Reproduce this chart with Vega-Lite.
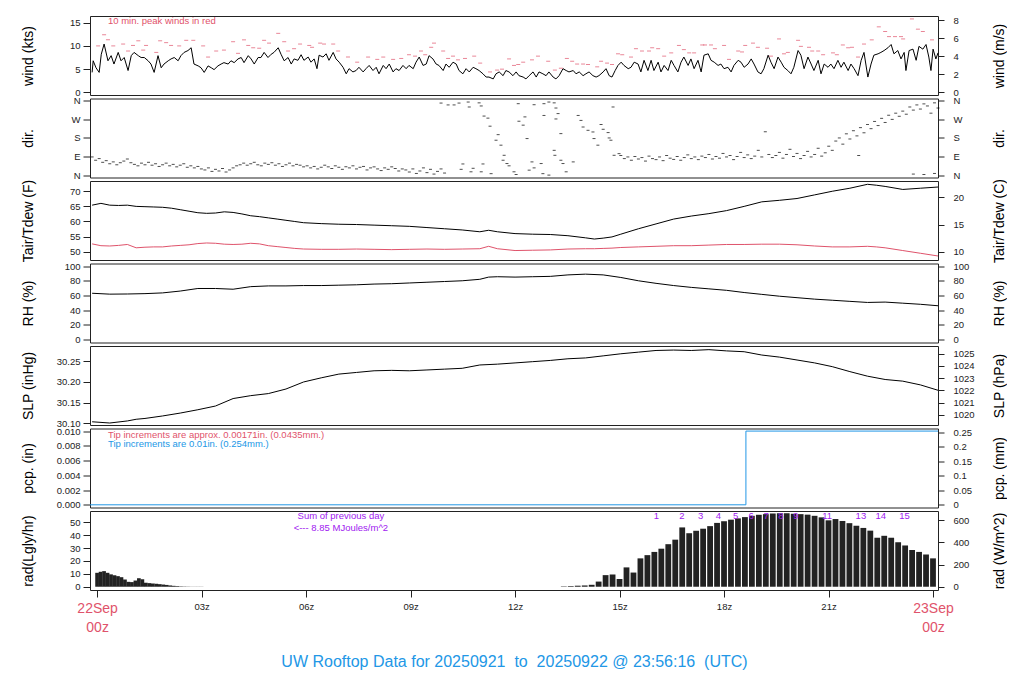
{
"$schema":"https://vega.github.io/schema/vega-lite/v6.json",
"padding":{"left":20,"top":14,"right":0,"bottom":0},
"background":"white",
"spacing":3.5,
"bounds":"flush",
"config":{
"font":"Liberation Sans",
"view":{"stroke":"#222","strokeWidth":1},
"axis":{"labelFont":"Liberation Sans","labelFontSize":9.5,"labelColor":"#222","tickColor":"#222","tickSize":7,"labelPadding":3,"domain":false,"grid":false,"titleFont":"Liberation Sans","titleFontSize":14,"titleFontWeight":"normal","titleColor":"#000","labelOverlap":false,"labelFlush":false},
"axisLeft":{"titleAngle":270,"titleX":-62,"titleY":39.5,"titleAlign":"center","titleBaseline":"middle"},
"axisRight":{"titleAngle":270,"titleX":61,"titleY":39.5,"titleAlign":"center","titleBaseline":"middle","tickSize":6,"labelPadding":9}
},
"datasets":{
"wind":[{"t":0,"w":4.3},{"t":0.03,"w":6.8},{"t":0.11,"w":5.3},{"t":0.2,"w":4.3},{"t":0.26,"w":8.2},{"t":0.34,"w":10.4},{"t":0.45,"w":6.8},{"t":0.54,"w":7.9},{"t":0.62,"w":6.1},{"t":0.74,"w":8.6},{"t":0.82,"w":6.8},{"t":0.91,"w":7.5},{"t":1.02,"w":4.7},{"t":1.11,"w":7.9},{"t":1.19,"w":8.6},{"t":1.31,"w":7.9},{"t":1.39,"w":7.5},{"t":1.48,"w":7.5},{"t":1.59,"w":6.8},{"t":1.67,"w":6.1},{"t":1.76,"w":4.3},{"t":1.87,"w":7.9},{"t":1.96,"w":5.3},{"t":2.04,"w":6.1},{"t":2.16,"w":6.8},{"t":2.24,"w":7.2},{"t":2.33,"w":7.5},{"t":2.44,"w":6.8},{"t":2.52,"w":7.9},{"t":2.61,"w":8.6},{"t":2.72,"w":9.0},{"t":2.81,"w":9.6},{"t":2.89,"w":6.1},{"t":3.01,"w":5.7},{"t":3.09,"w":5.3},{"t":3.18,"w":4.3},{"t":3.29,"w":5.7},{"t":3.38,"w":5.3},{"t":3.46,"w":4.9},{"t":3.57,"w":5.7},{"t":3.66,"w":6.1},{"t":3.74,"w":6.4},{"t":3.86,"w":6.1},{"t":3.94,"w":6.8},{"t":4.03,"w":6.4},{"t":4.14,"w":7.2},{"t":4.23,"w":7.5},{"t":4.31,"w":6.4},{"t":4.43,"w":7.9},{"t":4.51,"w":7.2},{"t":4.6,"w":6.1},{"t":4.71,"w":7.5},{"t":4.79,"w":7.5},{"t":4.88,"w":8.6},{"t":4.99,"w":7.5},{"t":5.08,"w":8.2},{"t":5.16,"w":8.6},{"t":5.28,"w":9.6},{"t":5.36,"w":8.2},{"t":5.45,"w":6.8},{"t":5.56,"w":7.5},{"t":5.65,"w":6.1},{"t":5.73,"w":7.2},{"t":5.84,"w":6.9},{"t":5.93,"w":8.1},{"t":6.01,"w":6.9},{"t":6.13,"w":7.6},{"t":6.21,"w":6.5},{"t":6.3,"w":7.2},{"t":6.38,"w":5.1},{"t":6.44,"w":8.0},{"t":6.55,"w":7.6},{"t":6.64,"w":8.3},{"t":6.72,"w":6.9},{"t":6.84,"w":8.6},{"t":6.92,"w":7.2},{"t":7.01,"w":6.5},{"t":7.12,"w":5.4},{"t":7.21,"w":4.0},{"t":7.29,"w":5.1},{"t":7.4,"w":4.4},{"t":7.49,"w":4.7},{"t":7.57,"w":5.4},{"t":7.69,"w":4.4},{"t":7.77,"w":5.1},{"t":7.86,"w":5.8},{"t":7.97,"w":4.7},{"t":8.06,"w":5.4},{"t":8.14,"w":4.0},{"t":8.26,"w":5.8},{"t":8.34,"w":5.1},{"t":8.43,"w":6.1},{"t":8.54,"w":4.4},{"t":8.62,"w":5.1},{"t":8.71,"w":4.7},{"t":8.82,"w":5.8},{"t":8.91,"w":5.1},{"t":8.99,"w":5.8},{"t":9.11,"w":5.1},{"t":9.19,"w":6.5},{"t":9.28,"w":7.6},{"t":9.39,"w":5.8},{"t":9.48,"w":6.1},{"t":9.56,"w":7.9},{"t":9.67,"w":7.2},{"t":9.76,"w":6.1},{"t":9.84,"w":5.8},{"t":9.96,"w":4.7},{"t":10.04,"w":6.1},{"t":10.13,"w":5.4},{"t":10.24,"w":6.5},{"t":10.33,"w":6.1},{"t":10.41,"w":4.7},{"t":10.52,"w":4.0},{"t":10.61,"w":5.1},{"t":10.7,"w":4.4},{"t":10.81,"w":5.4},{"t":10.89,"w":5.1},{"t":10.98,"w":4.7},{"t":11.09,"w":4.0},{"t":11.18,"w":3.3},{"t":11.26,"w":3.3},{"t":11.38,"w":2.9},{"t":11.46,"w":4.0},{"t":11.55,"w":4.4},{"t":11.66,"w":3.6},{"t":11.74,"w":4.7},{"t":11.83,"w":4.4},{"t":11.94,"w":3.6},{"t":12.03,"w":4.4},{"t":12.11,"w":3.6},{"t":12.23,"w":3.3},{"t":12.31,"w":2.9},{"t":12.4,"w":3.6},{"t":12.51,"w":4.4},{"t":12.6,"w":3.3},{"t":12.68,"w":4.4},{"t":12.79,"w":4.0},{"t":12.88,"w":3.6},{"t":12.96,"w":4.4},{"t":13.08,"w":3.3},{"t":13.16,"w":2.9},{"t":13.25,"w":3.6},{"t":13.36,"w":5.1},{"t":13.45,"w":4.7},{"t":13.53,"w":4.4},{"t":13.65,"w":4.7},{"t":13.73,"w":4.0},{"t":13.82,"w":4.4},{"t":13.93,"w":3.6},{"t":14.01,"w":4.0},{"t":14.1,"w":4.4},{"t":14.21,"w":3.6},{"t":14.3,"w":3.3},{"t":14.38,"w":3.6},{"t":14.5,"w":4.4},{"t":14.58,"w":5.1},{"t":14.67,"w":3.6},{"t":14.75,"w":3.3},{"t":14.84,"w":4.7},{"t":14.92,"w":5.8},{"t":15.01,"w":6.5},{"t":15.09,"w":5.8},{"t":15.21,"w":5.1},{"t":15.29,"w":5.4},{"t":15.38,"w":6.5},{"t":15.49,"w":6.1},{"t":15.57,"w":4.4},{"t":15.66,"w":6.9},{"t":15.77,"w":4.7},{"t":15.86,"w":6.9},{"t":15.94,"w":4.7},{"t":16.06,"w":6.5},{"t":16.14,"w":4.4},{"t":16.23,"w":5.8},{"t":16.34,"w":4.7},{"t":16.43,"w":6.9},{"t":16.51,"w":5.8},{"t":16.62,"w":4.4},{"t":16.71,"w":6.5},{"t":16.79,"w":7.6},{"t":16.91,"w":5.8},{"t":16.99,"w":7.2},{"t":17.08,"w":5.1},{"t":17.19,"w":6.9},{"t":17.28,"w":4.4},{"t":17.36,"w":8.0},{"t":17.48,"w":8.3},{"t":17.56,"w":6.9},{"t":17.65,"w":6.5},{"t":17.76,"w":5.8},{"t":17.84,"w":6.1},{"t":17.93,"w":5.1},{"t":18.04,"w":5.4},{"t":18.13,"w":4.4},{"t":18.21,"w":5.8},{"t":18.33,"w":6.9},{"t":18.41,"w":6.5},{"t":18.5,"w":5.4},{"t":18.61,"w":6.1},{"t":18.7,"w":7.2},{"t":18.78,"w":6.1},{"t":18.89,"w":4.4},{"t":18.98,"w":4.0},{"t":19.06,"w":5.1},{"t":19.18,"w":8.0},{"t":19.26,"w":6.5},{"t":19.35,"w":5.1},{"t":19.46,"w":7.6},{"t":19.55,"w":6.5},{"t":19.63,"w":5.4},{"t":19.74,"w":4.7},{"t":19.83,"w":4.0},{"t":19.91,"w":5.4},{"t":20.03,"w":9.0},{"t":20.11,"w":8.0},{"t":20.2,"w":5.1},{"t":20.31,"w":7.6},{"t":20.4,"w":6.1},{"t":20.48,"w":4.7},{"t":20.6,"w":6.9},{"t":20.68,"w":4.0},{"t":20.77,"w":6.1},{"t":20.88,"w":5.4},{"t":20.96,"w":6.1},{"t":21.05,"w":5.1},{"t":21.16,"w":6.9},{"t":21.25,"w":5.4},{"t":21.33,"w":6.5},{"t":21.45,"w":4.7},{"t":21.53,"w":6.1},{"t":21.62,"w":5.1},{"t":21.73,"w":3.6},{"t":21.82,"w":6.9},{"t":21.9,"w":8.6},{"t":22.01,"w":3.3},{"t":22.1,"w":6.1},{"t":22.18,"w":8.0},{"t":22.3,"w":8.3},{"t":22.38,"w":8.6},{"t":22.47,"w":9.0},{"t":22.58,"w":9.6},{"t":22.67,"w":10.3},{"t":22.75,"w":8.3},{"t":22.86,"w":9.0},{"t":22.95,"w":7.2},{"t":23.04,"w":8.6},{"t":23.09,"w":4.7},{"t":23.18,"w":9.0},{"t":23.29,"w":9.3},{"t":23.38,"w":6.9},{"t":23.46,"w":9.9},{"t":23.57,"w":9.3},{"t":23.66,"w":10.3},{"t":23.74,"w":7.6},{"t":23.8,"w":4.7},{"t":23.86,"w":9.3},{"t":23.94,"w":7.2},{"t":24.0,"w":8.5}],
"peak":[{"t":0.17,"p":10.0},{"t":0.34,"p":12.4},{"t":0.45,"p":11.3},{"t":0.6,"p":10.0},{"t":0.88,"p":10.4},{"t":1.02,"p":8.9},{"t":1.16,"p":10.1},{"t":1.31,"p":11.1},{"t":1.45,"p":9.1},{"t":1.53,"p":10.1},{"t":1.82,"p":8.6},{"t":1.93,"p":11.1},{"t":2.1,"p":10.7},{"t":2.24,"p":10.1},{"t":2.47,"p":10.0},{"t":2.67,"p":11.2},{"t":2.87,"p":11.2},{"t":3.15,"p":10.0},{"t":3.29,"p":7.6},{"t":3.52,"p":8.9},{"t":3.74,"p":9.1},{"t":4.0,"p":10.9},{"t":4.14,"p":8.4},{"t":4.31,"p":11.3},{"t":4.43,"p":10.1},{"t":4.57,"p":9.6},{"t":4.74,"p":9.5},{"t":4.88,"p":11.2},{"t":5.02,"p":10.6},{"t":5.28,"p":12.7},{"t":5.45,"p":10.9},{"t":5.56,"p":8.9},{"t":5.73,"p":9.4},{"t":5.9,"p":10.4},{"t":6.16,"p":10.1},{"t":6.24,"p":9.7},{"t":6.47,"p":10.6},{"t":6.58,"p":10.4},{"t":6.84,"p":10.4},{"t":6.98,"p":8.9},{"t":7.26,"p":7.6},{"t":7.52,"p":6.5},{"t":7.83,"p":7.6},{"t":8.09,"p":7.1},{"t":8.26,"p":7.6},{"t":8.54,"p":7.1},{"t":8.77,"p":7.3},{"t":8.99,"p":8.1},{"t":9.16,"p":7.8},{"t":9.33,"p":8.9},{"t":9.45,"p":8.1},{"t":9.62,"p":9.7},{"t":9.7,"p":10.6},{"t":9.96,"p":8.9},{"t":10.1,"p":7.3},{"t":10.24,"p":7.8},{"t":10.38,"p":7.0},{"t":10.58,"p":7.3},{"t":10.84,"p":7.8},{"t":11.01,"p":6.3},{"t":11.29,"p":4.4},{"t":11.49,"p":4.8},{"t":11.63,"p":5.0},{"t":11.83,"p":7.2},{"t":11.97,"p":5.8},{"t":12.09,"p":6.0},{"t":12.23,"p":6.5},{"t":12.48,"p":7.0},{"t":12.65,"p":7.8},{"t":12.94,"p":6.7},{"t":13.13,"p":4.8},{"t":13.3,"p":5.2},{"t":13.47,"p":7.3},{"t":13.62,"p":6.7},{"t":13.76,"p":6.1},{"t":13.93,"p":6.1},{"t":14.07,"p":6.0},{"t":14.33,"p":5.5},{"t":14.44,"p":6.7},{"t":14.61,"p":6.3},{"t":14.75,"p":6.0},{"t":14.92,"p":8.3},{"t":15.04,"p":8.1},{"t":15.29,"p":7.6},{"t":15.43,"p":9.4},{"t":15.6,"p":8.9},{"t":15.8,"p":8.9},{"t":15.89,"p":9.6},{"t":16.06,"p":9.4},{"t":16.23,"p":7.8},{"t":16.43,"p":8.5},{"t":16.65,"p":10.1},{"t":16.79,"p":9.2},{"t":16.94,"p":8.5},{"t":17.08,"p":8.5},{"t":17.31,"p":10.2},{"t":17.39,"p":10.2},{"t":17.56,"p":10.2},{"t":17.67,"p":9.4},{"t":17.93,"p":10.1},{"t":18.07,"p":7.1},{"t":18.33,"p":8.9},{"t":18.44,"p":8.7},{"t":18.53,"p":10.1},{"t":18.75,"p":10.6},{"t":18.89,"p":9.7},{"t":19.15,"p":9.5},{"t":19.26,"p":7.8},{"t":19.49,"p":11.5},{"t":19.63,"p":8.3},{"t":19.74,"p":8.6},{"t":20.03,"p":11.2},{"t":20.11,"p":9.9},{"t":20.34,"p":9.7},{"t":20.43,"p":8.9},{"t":20.6,"p":8.9},{"t":20.74,"p":8.1},{"t":21.02,"p":8.5},{"t":21.13,"p":8.1},{"t":21.3,"p":10.2},{"t":21.45,"p":9.6},{"t":21.56,"p":9.7},{"t":21.73,"p":7.6},{"t":21.9,"p":10.4},{"t":22.12,"p":11.3},{"t":22.32,"p":14.1},{"t":22.5,"p":13.1},{"t":22.61,"p":12.0},{"t":22.78,"p":12.0},{"t":22.95,"p":12.0},{"t":23.01,"p":11.5},{"t":23.26,"p":15.8},{"t":23.43,"p":13.6},{"t":23.57,"p":13.1},{"t":23.83,"p":11.3}],
"dir":[{"t":0.0,"d":88},{"t":0.1,"d":72},{"t":0.2,"d":80},{"t":0.3,"d":62},{"t":0.4,"d":70},{"t":0.5,"d":55},{"t":0.6,"d":64},{"t":0.7,"d":50},{"t":0.8,"d":60},{"t":0.9,"d":68},{"t":1.0,"d":78},{"t":1.1,"d":60},{"t":1.2,"d":52},{"t":1.3,"d":45},{"t":1.4,"d":58},{"t":1.5,"d":50},{"t":1.6,"d":62},{"t":1.7,"d":48},{"t":1.8,"d":55},{"t":1.9,"d":42},{"t":2.0,"d":50},{"t":2.1,"d":58},{"t":2.2,"d":45},{"t":2.3,"d":52},{"t":2.4,"d":40},{"t":2.5,"d":48},{"t":2.6,"d":55},{"t":2.7,"d":38},{"t":2.8,"d":45},{"t":2.9,"d":35},{"t":3.0,"d":42},{"t":3.1,"d":30},{"t":3.2,"d":25},{"t":3.3,"d":35},{"t":3.4,"d":18},{"t":3.5,"d":28},{"t":3.6,"d":20},{"t":3.7,"d":32},{"t":3.8,"d":15},{"t":3.9,"d":25},{"t":4.0,"d":35},{"t":4.1,"d":45},{"t":4.2,"d":50},{"t":4.3,"d":58},{"t":4.4,"d":48},{"t":4.5,"d":55},{"t":4.6,"d":62},{"t":4.7,"d":50},{"t":4.8,"d":45},{"t":4.9,"d":58},{"t":5.0,"d":52},{"t":5.1,"d":60},{"t":5.2,"d":48},{"t":5.3,"d":55},{"t":5.4,"d":42},{"t":5.5,"d":50},{"t":5.6,"d":58},{"t":5.7,"d":45},{"t":5.8,"d":52},{"t":5.9,"d":48},{"t":6.0,"d":40},{"t":6.1,"d":45},{"t":6.2,"d":35},{"t":6.3,"d":42},{"t":6.4,"d":30},{"t":6.5,"d":38},{"t":6.6,"d":48},{"t":6.7,"d":40},{"t":6.8,"d":32},{"t":6.9,"d":45},{"t":7.0,"d":38},{"t":7.1,"d":28},{"t":7.2,"d":40},{"t":7.3,"d":35},{"t":7.4,"d":45},{"t":7.5,"d":30},{"t":7.6,"d":38},{"t":7.7,"d":42},{"t":7.8,"d":25},{"t":7.9,"d":35},{"t":8.0,"d":40},{"t":8.1,"d":30},{"t":8.2,"d":22},{"t":8.3,"d":35},{"t":8.4,"d":28},{"t":8.5,"d":40},{"t":8.6,"d":32},{"t":8.7,"d":20},{"t":8.8,"d":30},{"t":8.9,"d":25},{"t":9.0,"d":15},{"t":9.1,"d":30},{"t":9.2,"d":8},{"t":9.3,"d":20},{"t":9.4,"d":35},{"t":9.5,"d":12},{"t":9.6,"d":28},{"t":9.7,"d":5},{"t":9.8,"d":18},{"t":9.9,"d":30},{"t":10.0,"d":10},{"t":9.9,"d":349},{"t":10.1,"d":340},{"t":10.27,"d":340},{"t":10.41,"d":349},{"t":10.67,"d":354},{"t":10.7,"d":330},{"t":10.98,"d":350},{"t":11.04,"d":335},{"t":12.82,"d":346},{"t":12.96,"d":354},{"t":13.11,"d":350},{"t":13.16,"d":325},{"t":14.78,"d":330},{"t":12.09,"d":346},{"t":12.54,"d":341},{"t":10.52,"d":54},{"t":10.47,"d":28},{"t":10.75,"d":16},{"t":10.81,"d":33},{"t":11.09,"d":54},{"t":11.04,"d":16},{"t":11.32,"d":7},{"t":11.66,"d":72},{"t":11.69,"d":96},{"t":11.77,"d":56},{"t":11.83,"d":45},{"t":11.97,"d":16},{"t":12.03,"d":3},{"t":12.4,"d":24},{"t":12.48,"d":64},{"t":12.54,"d":35},{"t":12.74,"d":56},{"t":12.79,"d":7},{"t":12.96,"d":0},{"t":13.11,"d":120},{"t":13.13,"d":96},{"t":13.3,"d":72},{"t":13.36,"d":56},{"t":13.45,"d":16},{"t":13.65,"d":64},{"t":13.3,"d":201},{"t":13.16,"d":272},{"t":13.22,"d":298},{"t":11.12,"d":286},{"t":11.23,"d":276},{"t":11.29,"d":237},{"t":11.52,"d":196},{"t":11.46,"d":169},{"t":11.6,"d":145},{"t":12.11,"d":261},{"t":12.28,"d":282},{"t":12.23,"d":242},{"t":12.34,"d":177},{"t":12.82,"d":289},{"t":13.79,"d":289},{"t":13.87,"d":265},{"t":13.93,"d":233},{"t":14.07,"d":217},{"t":14.21,"d":209},{"t":14.24,"d":177},{"t":14.35,"d":145},{"t":14.44,"d":245},{"t":14.5,"d":222},{"t":14.64,"d":206},{"t":14.67,"d":180},{"t":14.72,"d":169},{"t":14.81,"d":96},{"t":14.95,"d":104},{"t":15.0,"d":95},{"t":15.1,"d":80},{"t":15.2,"d":88},{"t":15.3,"d":72},{"t":15.4,"d":90},{"t":15.5,"d":78},{"t":15.6,"d":85},{"t":15.7,"d":68},{"t":15.8,"d":92},{"t":15.9,"d":80},{"t":16.0,"d":75},{"t":16.1,"d":88},{"t":16.2,"d":70},{"t":16.3,"d":95},{"t":16.4,"d":82},{"t":16.5,"d":76},{"t":16.6,"d":90},{"t":16.7,"d":72},{"t":16.8,"d":85},{"t":16.9,"d":98},{"t":17.0,"d":80},{"t":17.1,"d":88},{"t":17.2,"d":75},{"t":17.3,"d":92},{"t":17.4,"d":85},{"t":17.5,"d":100},{"t":17.6,"d":78},{"t":17.7,"d":90},{"t":17.8,"d":82},{"t":17.9,"d":105},{"t":18.0,"d":88},{"t":18.1,"d":95},{"t":18.2,"d":75},{"t":18.3,"d":90},{"t":18.4,"d":110},{"t":18.5,"d":85},{"t":18.6,"d":98},{"t":18.7,"d":80},{"t":18.8,"d":92},{"t":18.9,"d":120},{"t":19.0,"d":88},{"t":19.1,"d":210},{"t":19.2,"d":100},{"t":19.3,"d":85},{"t":19.4,"d":95},{"t":19.5,"d":110},{"t":19.6,"d":82},{"t":19.7,"d":100},{"t":19.8,"d":125},{"t":19.9,"d":90},{"t":20.0,"d":105},{"t":20.1,"d":80},{"t":20.2,"d":95},{"t":20.3,"d":115},{"t":20.4,"d":88},{"t":20.5,"d":100},{"t":20.6,"d":130},{"t":20.7,"d":92},{"t":20.8,"d":108},{"t":20.9,"d":140},{"t":21.0,"d":120},{"t":21.1,"d":165},{"t":21.2,"d":180},{"t":21.3,"d":150},{"t":21.4,"d":200},{"t":21.5,"d":175},{"t":21.6,"d":215},{"t":21.7,"d":190},{"t":21.75,"d":95},{"t":21.8,"d":230},{"t":21.9,"d":205},{"t":22.0,"d":245},{"t":22.1,"d":225},{"t":22.2,"d":260},{"t":22.3,"d":240},{"t":22.4,"d":275},{"t":22.5,"d":255},{"t":22.6,"d":290},{"t":22.7,"d":270},{"t":22.8,"d":300},{"t":22.9,"d":285},{"t":23.0,"d":310},{"t":23.1,"d":295},{"t":23.2,"d":330},{"t":23.3,"d":315},{"t":23.4,"d":340},{"t":23.5,"d":320},{"t":23.6,"d":345},{"t":23.7,"d":335},{"t":23.8,"d":300},{"t":23.9,"d":350},{"t":24.0,"d":325},{"t":23.3,"d":5},{"t":23.6,"d":3},{"t":23.9,"d":8}],
"temp":[{"t":0,"T":65.4,"D":52.6},{"t":0.25,"T":66.0,"D":52.0},{"t":0.5,"T":65.4,"D":51.9},{"t":0.75,"T":65.3,"D":52.1},{"t":1.0,"T":65.4,"D":52.4},{"t":1.25,"T":65.0,"D":51.3},{"t":1.5,"T":64.9,"D":51.5},{"t":1.75,"T":64.8,"D":51.6},{"t":2.0,"T":64.7,"D":51.6},{"t":2.25,"T":64.4,"D":51.9},{"t":2.5,"T":63.9,"D":52.1},{"t":2.75,"T":63.4,"D":52.3},{"t":3.0,"T":62.9,"D":52.7},{"t":3.25,"T":62.7,"D":52.9},{"t":3.5,"T":62.8,"D":52.8},{"t":3.75,"T":63.2,"D":52.5},{"t":4.0,"T":63.0,"D":52.4},{"t":4.25,"T":62.5,"D":52.5},{"t":4.5,"T":61.9,"D":52.8},{"t":4.75,"T":61.6,"D":52.6},{"t":5.0,"T":61.2,"D":52.0},{"t":5.25,"T":60.8,"D":51.7},{"t":5.5,"T":60.4,"D":51.4},{"t":5.75,"T":60.0,"D":51.1},{"t":6.0,"T":59.6,"D":50.9},{"t":6.5,"T":59.3,"D":50.8},{"t":7.0,"T":59.1,"D":50.8},{"t":7.5,"T":59.0,"D":50.9},{"t":8.0,"T":58.8,"D":50.8},{"t":8.5,"T":58.6,"D":50.7},{"t":9.0,"T":58.4,"D":50.8},{"t":9.5,"T":58.0,"D":50.9},{"t":10.0,"T":57.6,"D":50.8},{"t":10.5,"T":57.2,"D":50.9},{"t":11.0,"T":56.6,"D":51.0},{"t":11.25,"T":57.1,"D":51.8},{"t":11.5,"T":56.6,"D":51.0},{"t":12.0,"T":56.0,"D":50.4},{"t":12.5,"T":55.8,"D":50.5},{"t":13.0,"T":55.7,"D":50.6},{"t":13.5,"T":55.3,"D":50.9},{"t":14.0,"T":54.6,"D":51.0},{"t":14.25,"T":54.2,"D":51.0},{"t":14.5,"T":54.5,"D":51.1},{"t":14.75,"T":54.9,"D":51.2},{"t":15.0,"T":55.8,"D":51.4},{"t":15.5,"T":57.6,"D":51.6},{"t":16.0,"T":59.2,"D":51.8},{"t":16.5,"T":60.8,"D":52.0},{"t":17.0,"T":61.8,"D":52.0},{"t":17.5,"T":62.6,"D":52.2},{"t":18.0,"T":63.6,"D":52.4},{"t":18.5,"T":65.0,"D":52.4},{"t":19.0,"T":66.5,"D":52.5},{"t":19.5,"T":67.0,"D":52.5},{"t":20.0,"T":67.6,"D":52.3},{"t":20.5,"T":68.8,"D":51.9},{"t":21.0,"T":70.0,"D":51.6},{"t":21.5,"T":71.0,"D":51.6},{"t":22.0,"T":72.3,"D":51.8},{"t":22.25,"T":72.0,"D":51.6},{"t":22.5,"T":71.6,"D":51.3},{"t":23.0,"T":70.6,"D":50.4},{"t":23.5,"T":71.0,"D":49.5},{"t":24.0,"T":71.4,"D":48.6}],
"rh":[{"t":0,"h":63},{"t":0.5,"h":61.8},{"t":1.0,"h":62},{"t":1.5,"h":62.5},{"t":2.0,"h":63.5},{"t":2.5,"h":66},{"t":3.0,"h":69.5},{"t":3.5,"h":69.5},{"t":4.0,"h":68.5},{"t":4.5,"h":72},{"t":5.0,"h":73},{"t":5.5,"h":73},{"t":6.0,"h":73.5},{"t":6.5,"h":73.5},{"t":7.0,"h":74},{"t":7.5,"h":74.5},{"t":8.0,"h":75.5},{"t":8.5,"h":76},{"t":9.0,"h":77},{"t":9.5,"h":78},{"t":10.0,"h":79},{"t":10.5,"h":80},{"t":11.0,"h":82},{"t":11.25,"h":85},{"t":11.5,"h":85.5},{"t":12.0,"h":85},{"t":12.5,"h":85.5},{"t":13.0,"h":86},{"t":13.5,"h":88},{"t":14.0,"h":89},{"t":14.5,"h":88},{"t":15.0,"h":84.5},{"t":15.5,"h":80},{"t":16.0,"h":76.5},{"t":16.5,"h":73.5},{"t":17.0,"h":71},{"t":17.5,"h":69},{"t":18.0,"h":67},{"t":18.5,"h":64},{"t":19.0,"h":61.5},{"t":19.5,"h":59},{"t":20.0,"h":57},{"t":20.5,"h":55},{"t":21.0,"h":53.5},{"t":21.5,"h":52},{"t":22.0,"h":50.5},{"t":22.5,"h":51},{"t":23.0,"h":49.5},{"t":23.5,"h":48},{"t":24.0,"h":46}],
"slp":[{"t":0,"s":30.104},{"t":0.5,"s":30.101},{"t":1.0,"s":30.106},{"t":1.25,"s":30.11},{"t":1.5,"s":30.112},{"t":2.0,"s":30.118},{"t":2.5,"s":30.125},{"t":3.0,"s":30.133},{"t":3.5,"s":30.142},{"t":4.0,"s":30.16},{"t":4.5,"s":30.167},{"t":5.0,"s":30.172},{"t":5.5,"s":30.183},{"t":6.0,"s":30.2},{"t":6.5,"s":30.21},{"t":7.0,"s":30.219},{"t":7.5,"s":30.223},{"t":8.0,"s":30.227},{"t":8.5,"s":30.228},{"t":9.0,"s":30.227},{"t":9.5,"s":30.229},{"t":10.0,"s":30.231},{"t":10.5,"s":30.233},{"t":11.0,"s":30.241},{"t":11.5,"s":30.243},{"t":12.0,"s":30.246},{"t":12.5,"s":30.249},{"t":13.0,"s":30.252},{"t":13.5,"s":30.256},{"t":14.0,"s":30.258},{"t":14.5,"s":30.263},{"t":15.0,"s":30.268},{"t":15.5,"s":30.272},{"t":16.0,"s":30.276},{"t":16.5,"s":30.277},{"t":17.0,"s":30.276},{"t":17.5,"s":30.278},{"t":18.0,"s":30.275},{"t":18.5,"s":30.273},{"t":19.0,"s":30.265},{"t":19.5,"s":30.26},{"t":20.0,"s":30.253},{"t":20.5,"s":30.246},{"t":21.0,"s":30.237},{"t":21.5,"s":30.225},{"t":22.0,"s":30.214},{"t":22.5,"s":30.206},{"t":23.0,"s":30.202},{"t":23.5,"s":30.193},{"t":24.0,"s":30.18}],
"pcp":[{"t":-0.06,"p":0},{"t":18.55,"p":0.01},{"t":24.0,"p":0.01}],
"rad":[{"t":0.0,"r":10.8},{"t":0.1,"r":11.6},{"t":0.2,"r":12.1},{"t":0.3,"r":10.8},{"t":0.4,"r":9.6},{"t":0.5,"r":8.9},{"t":0.6,"r":8.2},{"t":0.7,"r":7.4},{"t":0.8,"r":5.6},{"t":0.9,"r":3.8},{"t":1.0,"r":3.6},{"t":1.1,"r":4.8},{"t":1.2,"r":6.6},{"t":1.3,"r":5.8},{"t":1.4,"r":3.1},{"t":1.5,"r":2.8},{"t":1.6,"r":2.6},{"t":1.7,"r":2.3},{"t":1.8,"r":2.0},{"t":1.9,"r":1.7},{"t":2.0,"r":1.4},{"t":2.1,"r":1.0},{"t":2.2,"r":0.7},{"t":2.3,"r":0.5},{"t":2.4,"r":0.3},{"t":2.5,"r":0.2},{"t":2.6,"r":0.15},{"t":2.7,"r":0.1},{"t":2.8,"r":0.1},{"t":2.9,"r":0.1},{"t":3.0,"r":0.1},
{"t":13.4,"r":0.3},{"t":13.6,"r":0.5},{"t":13.8,"r":0.8},{"t":14.0,"r":1.0},{"t":14.2,"r":1.5},{"t":14.4,"r":4},{"t":14.6,"r":9},{"t":14.8,"r":9.5},{"t":15.0,"r":6},{"t":15.2,"r":15},{"t":15.4,"r":11},{"t":15.6,"r":22},{"t":15.8,"r":24.5},{"t":16.0,"r":27},{"t":16.2,"r":29.5},{"t":16.4,"r":33},{"t":16.6,"r":36.5},{"t":16.8,"r":46},{"t":17.0,"r":41.5},{"t":17.2,"r":43.4},{"t":17.4,"r":45},{"t":17.6,"r":47},{"t":17.8,"r":49.5},{"t":18.0,"r":50.8},{"t":18.2,"r":52},{"t":18.4,"r":53},{"t":18.6,"r":54},{"t":18.8,"r":55},{"t":19.0,"r":55.8},{"t":19.2,"r":56.3},{"t":19.4,"r":56.8},{"t":19.6,"r":57},{"t":19.8,"r":57},{"t":20.0,"r":56.6},{"t":20.2,"r":56.3},{"t":20.4,"r":55.9},{"t":20.6,"r":55},{"t":20.8,"r":53.8},{"t":21.0,"r":51.5},{"t":21.2,"r":52.5},{"t":21.4,"r":51},{"t":21.6,"r":49.3},{"t":21.8,"r":47.3},{"t":22.0,"r":45.6},{"t":22.2,"r":43.5},{"t":22.4,"r":38},{"t":22.6,"r":39.5},{"t":22.8,"r":38},{"t":23.0,"r":34.5},{"t":23.2,"r":32},{"t":23.4,"r":28.5},{"t":23.6,"r":27},{"t":23.8,"r":25},{"t":24.0,"r":22}],
"notes":[{"panel":"wind","t":0.45,"v":15.36,"label":"10 min. peak winds in red","s":"approx"},{"panel":"pcp","t":0.45,"v":0.0095,"label":"Tip increments are approx. 0.00171in. (0.0435mm.)","s":"approx"},{"panel":"pcp","t":0.45,"v":0.00828,"label":"Tip increments are 0.01in. (0.254mm.)","s":"exact"},{"panel":"rad","t":7.0,"v":55.1,"label":"Sum of previous day"},{"panel":"rad","t":7.0,"v":45.9,"label":"<--- 8.85 MJoules/m^2"},{"panel":"rad","t":16.06,"v":55.1,"label":"1"},{"panel":"rad","t":16.79,"v":55.1,"label":"2"},{"panel":"rad","t":17.33,"v":55.1,"label":"3"},{"panel":"rad","t":17.84,"v":55.1,"label":"4"},{"panel":"rad","t":18.33,"v":55.1,"label":"5"},{"panel":"rad","t":18.78,"v":55.1,"label":"6"},{"panel":"rad","t":19.21,"v":55.1,"label":"7"},{"panel":"rad","t":19.63,"v":55.1,"label":"8"},{"panel":"rad","t":20.06,"v":55.1,"label":"9"},{"panel":"rad","t":20.96,"v":55.1,"label":"11"},{"panel":"rad","t":21.93,"v":55.1,"label":"13"},{"panel":"rad","t":22.5,"v":55.1,"label":"14"},{"panel":"rad","t":23.18,"v":55.1,"label":"15"}]
},
"vconcat":[
{"width":848,"height":79,"resolve":{"scale":{"y":"independent"}},"layer":[
 {"layer":[
  {"data":{"name":"wind"},"mark":{"type":"line","color":"#000","strokeWidth":1},"encoding":{"x":{"field":"t","type":"quantitative","scale":{"domain":[-0.06,24],"nice":false,"zero":false},"axis":null},"y":{"field":"w","type":"quantitative","title":"wind (kts)","scale":{"domain":[-0.56,16.43],"nice":false,"zero":false},"axis":{"values":[0,5,10,15]}}}},
  {"data":{"name":"peak"},"mark":{"type":"tick","orient":"horizontal","color":"#DF536B","size":4,"thickness":1},"encoding":{"x":{"field":"t","type":"quantitative","scale":{"domain":[-0.06,24],"nice":false,"zero":false},"axis":null},"y":{"field":"p","type":"quantitative","title":"wind (kts)","axis":{"values":[0,5,10,15]}}}},
  {"data":{"name":"notes"},"transform":[{"filter":"datum.panel=='wind'"}],"mark":{"type":"text","align":"left","baseline":"middle","fontSize":9.5,"color":"#DF536B"},"encoding":{"x":{"field":"t","type":"quantitative","scale":{"domain":[-0.06,24],"nice":false,"zero":false},"axis":null},"y":{"field":"v","type":"quantitative","title":"wind (kts)","axis":{"values":[0,5,10,15]}},"text":{"field":"label"}}}
 ]},
 {"data":{"values":[{"v":0}]},"mark":{"type":"point","opacity":0},"encoding":{"y":{"field":"v","type":"quantitative","title":"wind (m/s)","scale":{"domain":[-0.29,8.45],"nice":false,"zero":false},"axis":{"orient":"right","values":[0,2,4,6,8]}}}}
]},
{"width":848,"height":79,"resolve":{"scale":{"y":"independent"}},"layer":[
 {"data":{"name":"dir"},"mark":{"type":"tick","orient":"horizontal","color":"#000","size":3,"thickness":1},"encoding":{"x":{"field":"t","type":"quantitative","scale":{"domain":[-0.06,24],"nice":false,"zero":false},"axis":null},"y":{"field":"d","type":"quantitative","title":"dir.","scale":{"domain":[-11.6,371.1],"nice":false,"zero":false},"axis":{"values":[0,90,180,270,360],"labelExpr":"datum.value==90?'E':datum.value==180?'S':datum.value==270?'W':'N'"}}}},
 {"data":{"values":[{"v":0}]},"mark":{"type":"point","opacity":0},"encoding":{"y":{"field":"v","type":"quantitative","title":"dir.","scale":{"domain":[-11.6,371.1],"nice":false,"zero":false},"axis":{"orient":"right","values":[0,90,180,270,360],"labelExpr":"datum.value==90?'E':datum.value==180?'S':datum.value==270?'W':'N'"}}}}
]},
{"width":848,"height":79,"resolve":{"scale":{"y":"independent"}},"layer":[
 {"layer":[
  {"data":{"name":"temp"},"mark":{"type":"line","color":"#000","strokeWidth":1},"encoding":{"x":{"field":"t","type":"quantitative","scale":{"domain":[-0.06,24],"nice":false,"zero":false},"axis":null},"y":{"field":"T","type":"quantitative","title":"Tair/Tdew (F)","scale":{"domain":[47.27,73.39],"nice":false,"zero":false},"axis":{"values":[50,55,60,65,70]}}}},
  {"data":{"name":"temp"},"mark":{"type":"line","color":"#DF536B","strokeWidth":1},"encoding":{"x":{"field":"t","type":"quantitative","scale":{"domain":[-0.06,24],"nice":false,"zero":false},"axis":null},"y":{"field":"D","type":"quantitative","title":"Tair/Tdew (F)","axis":{"values":[50,55,60,65,70]}}}}
 ]},
 {"data":{"values":[{"v":15}]},"mark":{"type":"point","opacity":0},"encoding":{"y":{"field":"v","type":"quantitative","title":"Tair/Tdew (C)","scale":{"domain":[8.48,22.99],"nice":false,"zero":false},"axis":{"orient":"right","values":[10,15,20]}}}}
]},
{"width":848,"height":79,"resolve":{"scale":{"y":"independent"}},"layer":[
 {"data":{"name":"rh"},"mark":{"type":"line","color":"#000","strokeWidth":1},"encoding":{"x":{"field":"t","type":"quantitative","scale":{"domain":[-0.06,24],"nice":false,"zero":false},"axis":null},"y":{"field":"h","type":"quantitative","title":"RH (%)","scale":{"domain":[-4.0,103.5],"nice":false,"zero":false},"axis":{"values":[0,20,40,60,80,100]}}}},
 {"data":{"values":[{"v":50}]},"mark":{"type":"point","opacity":0},"encoding":{"y":{"field":"v","type":"quantitative","title":"RH (%)","scale":{"domain":[-4.0,103.5],"nice":false,"zero":false},"axis":{"orient":"right","values":[0,20,40,60,80,100]}}}}
]},
{"width":848,"height":79,"resolve":{"scale":{"y":"independent"}},"layer":[
 {"data":{"name":"slp"},"mark":{"type":"line","color":"#000","strokeWidth":1},"encoding":{"x":{"field":"t","type":"quantitative","scale":{"domain":[-0.06,24],"nice":false,"zero":false},"axis":null},"y":{"field":"s","type":"quantitative","title":"SLP (inHg)","scale":{"domain":[30.0962,30.2868],"nice":false,"zero":false},"axis":{"values":[30.1,30.15,30.2,30.25],"format":".2f"}}}},
 {"data":{"values":[{"v":1022}]},"mark":{"type":"point","opacity":0},"encoding":{"y":{"field":"v","type":"quantitative","title":"SLP (hPa)","scale":{"domain":[1019.18,1025.63],"nice":false,"zero":false},"axis":{"orient":"right","values":[1020,1021,1022,1023,1024,1025],"format":"d"}}}}
]},
{"width":848,"height":79,"resolve":{"scale":{"y":"independent"}},"layer":[
 {"layer":[
  {"data":{"name":"pcp"},"mark":{"type":"line","color":"#2297E6","strokeWidth":1,"interpolate":"step-after"},"encoding":{"x":{"field":"t","type":"quantitative","scale":{"domain":[-0.06,24],"nice":false,"zero":false},"axis":null},"y":{"field":"p","type":"quantitative","title":"pcp. (in)","scale":{"domain":[-0.000365,0.01035],"nice":false,"zero":false},"axis":{"values":[0,0.002,0.004,0.006,0.008,0.01],"format":".3f"}}}},
  {"data":{"name":"notes"},"transform":[{"filter":"datum.panel=='pcp'"}],"mark":{"type":"text","align":"left","baseline":"middle","fontSize":9.5},"encoding":{"x":{"field":"t","type":"quantitative","scale":{"domain":[-0.06,24],"nice":false,"zero":false},"axis":null},"y":{"field":"v","type":"quantitative","title":"pcp. (in)","axis":{"values":[0,0.002,0.004,0.006,0.008,0.01],"format":".3f"}},"text":{"field":"label"},"color":{"field":"s","type":"nominal","scale":{"domain":["approx","exact"],"range":["#DF536B","#2297E6"]},"legend":null}}}
 ]},
 {"data":{"values":[{"v":0.1}]},"mark":{"type":"point","opacity":0},"encoding":{"y":{"field":"v","type":"quantitative","title":"pcp. (mm)","scale":{"domain":[-0.00927,0.2629],"nice":false,"zero":false},"axis":{"orient":"right","values":[0,0.05,0.1,0.15,0.2,0.25],"format":"~g"}}}}
]},
{"width":848,"height":79,"resolve":{"scale":{"y":"independent"}},"layer":[
 {"layer":[
  {"data":{"name":"rad"},"transform":[{"filter":"datum.t<5"}],"mark":{"type":"bar","color":"#222","width":3.7},"encoding":{"x":{"field":"t","type":"quantitative","scale":{"domain":[-0.06,24],"nice":false,"zero":false},"axis":{"title":"UW Rooftop Data for 20250921\u00a0 to\u00a0 20250922 @ 23:56:16\u00a0 (UTC)","titleColor":"#2297E6","titleFontSize":16,"titleX":424,"titleY":71,"titleAlign":"center","titleBaseline":"middle","values":[0,3,6,9,12,15,18,21,24],"labelExpr":"datum.value==0?['22Sep','00z']:datum.value==24?['23Sep','00z']:(datum.value<10?'0':'')+datum.value+'z'","labelColor":{"condition":{"test":"datum.value==0||datum.value==24","value":"#DF536B"},"value":"#222"},"labelFontSize":{"condition":{"test":"datum.value==0||datum.value==24","value":14},"value":9.5},"labelLineHeight":19,"labelFlush":false,"labelOverlap":false,"labelPadding":4,"tickSize":7}},"y":{"field":"r","type":"quantitative","title":"rad(Lgly/hr)","scale":{"domain":[-2.53,58.73],"nice":false,"zero":false},"axis":{"values":[0,10,20,30,40,50]}}}},
  {"data":{"name":"rad"},"transform":[{"filter":"datum.t>=5"}],"mark":{"type":"bar","color":"#222","width":5.8},"encoding":{"x":{"field":"t","type":"quantitative","scale":{"domain":[-0.06,24],"nice":false,"zero":false}},"y":{"field":"r","type":"quantitative","title":"rad(Lgly/hr)","axis":{"values":[0,10,20,30,40,50]}}}},
  {"data":{"name":"notes"},"transform":[{"filter":"datum.panel=='rad'"}],"mark":{"type":"text","align":"center","baseline":"middle","fontSize":9.5,"color":"#A020F0"},"encoding":{"x":{"field":"t","type":"quantitative","scale":{"domain":[-0.06,24],"nice":false,"zero":false}},"y":{"field":"v","type":"quantitative","title":"rad(Lgly/hr)","axis":{"values":[0,10,20,30,40,50]}},"text":{"field":"label"}}}
 ]},
 {"data":{"values":[{"v":300}]},"mark":{"type":"point","opacity":0},"encoding":{"y":{"field":"v","type":"quantitative","title":"rad (W/m^2)","scale":{"domain":[-29.4,683.0],"nice":false,"zero":false},"axis":{"orient":"right","values":[0,200,400,600]}}}}
]}
]
}
